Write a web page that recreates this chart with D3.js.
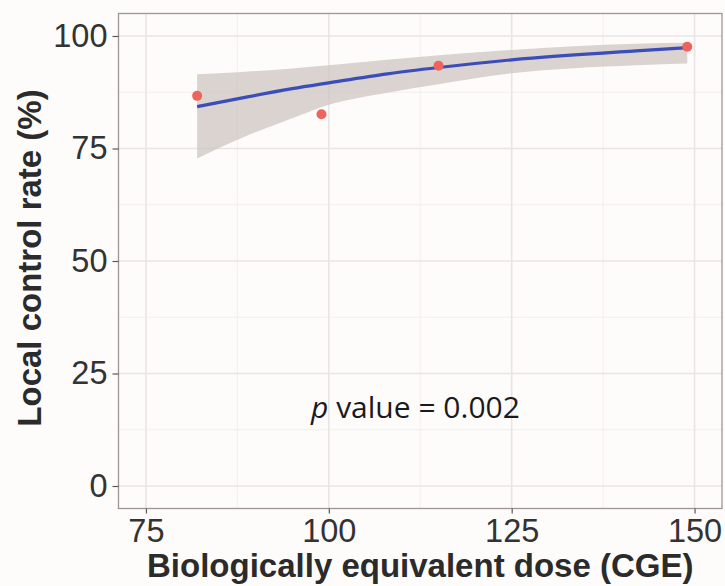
<!DOCTYPE html>
<html>
<head>
<meta charset="utf-8">
<script src="https://cdn.jsdelivr.net/npm/d3@7"></script>
<style>
  html, body { margin: 0; padding: 0; background: #fdfcfb; }
  svg { display: block; }
</style>
</head>
<body>
<div id="chart"></div>
<script>
// observed local control rates
const doses = [82, 99, 115, 149];
const rates = [86.7, 82.6, 93.4, 97.6];

// fitted curve and its confidence band, read at these doses
const fitDose = [82, 88, 95, 100, 108, 115, 125, 142, 149];
const fitRate = [84.3, 86.2, 88.3, 89.6, 91.6, 93.0, 94.7, 96.7, 97.4];
const fitUpper = [91.5, 92.0, 92.8, 93.5, 94.7, 95.7, 96.9, 98.3, 98.5];
const fitLower = [72.8, 77.3, 81.7, 84.7, 87.4, 89.3, 91.7, 93.5, 93.9];

const xTicks = [75, 100, 125, 150];
const xMinor = [87.5, 112.5, 137.5];
const yTicks = [0, 25, 50, 75, 100];
const yMinor = [12.5, 37.5, 62.5, 87.5];

const width = 725, height = 586;
const margin = { top: 13.5, right: 3, bottom: 77.5, left: 118.5 };

const svg = d3.select("#chart").append("svg")
  .attr("width", width)
  .attr("height", height);

const x = d3.scaleLinear().domain([71.25, 153.75]).range([margin.left, width - margin.right]);
const y = d3.scaleLinear().domain([-5, 105]).range([height - margin.bottom, margin.top]);

const textColor = "#2b2b2b";
const sans = "Liberation Sans, Arial, sans-serif";

// grid
const grid = svg.append("g");
grid.selectAll(".xminor").data(xMinor).join("line")
  .attr("x1", d => x(d)).attr("x2", d => x(d))
  .attr("y1", margin.top).attr("y2", height - margin.bottom)
  .attr("stroke", "#f3eeee").attr("stroke-width", 1);
grid.selectAll(".yminor").data(yMinor).join("line")
  .attr("y1", d => y(d)).attr("y2", d => y(d))
  .attr("x1", margin.left).attr("x2", width - margin.right)
  .attr("stroke", "#f3eeee").attr("stroke-width", 1);
grid.selectAll(".xmajor").data(xTicks).join("line")
  .attr("x1", d => x(d)).attr("x2", d => x(d))
  .attr("y1", margin.top).attr("y2", height - margin.bottom)
  .attr("stroke", "#ebe4e4").attr("stroke-width", 1.6);
grid.selectAll(".ymajor").data(yTicks).join("line")
  .attr("y1", d => y(d)).attr("y2", d => y(d))
  .attr("x1", margin.left).attr("x2", width - margin.right)
  .attr("stroke", "#ebe4e4").attr("stroke-width", 1.6);

// confidence band
const band = fitDose.map((d, i) => ({ dose: d, lo: fitLower[i], hi: fitUpper[i], fit: fitRate[i] }));

svg.append("path")
  .datum(band)
  .attr("fill", "#cdc5c0")
  .attr("fill-opacity", 0.75)
  .attr("d", d3.area()
    .x(d => x(d.dose))
    .y0(d => y(d.lo))
    .y1(d => y(d.hi))
    .curve(d3.curveMonotoneX));

svg.append("path")
  .datum(band)
  .attr("fill", "none")
  .attr("stroke", "#3b4db8")
  .attr("stroke-width", 3.2)
  .attr("d", d3.line()
    .x(d => x(d.dose))
    .y(d => y(d.fit))
    .curve(d3.curveMonotoneX));

// points
svg.selectAll(".dot").data(doses).join("circle")
  .attr("cx", d => x(d))
  .attr("cy", (d, i) => y(rates[i]))
  .attr("r", 5)
  .attr("fill", "#f0625c");

// panel border
svg.append("rect")
  .attr("x", margin.left).attr("y", margin.top)
  .attr("width", width - margin.right - margin.left)
  .attr("height", height - margin.bottom - margin.top)
  .attr("fill", "none")
  .attr("stroke", "#9e9692")
  .attr("stroke-width", 1.3);

// axes
const xAxis = svg.append("g")
  .attr("transform", `translate(0,${height - margin.bottom})`)
  .call(d3.axisBottom(x).tickValues(xTicks).tickSize(5).tickPadding(5));
const yAxis = svg.append("g")
  .attr("transform", `translate(${margin.left},0)`)
  .call(d3.axisLeft(y).tickValues(yTicks).tickSize(6).tickPadding(5));

[xAxis, yAxis].forEach(g => {
  g.select(".domain").remove();
  g.selectAll(".tick line").attr("stroke", "#5a5a5a").attr("stroke-width", 1.2);
  g.selectAll(".tick text")
    .attr("fill", "#333")
    .style("font-family", sans)
    .style("font-size", "32.5px");
});

// axis titles
svg.append("text")
  .attr("x", (margin.left + width - margin.right) / 2)
  .attr("y", 577)
  .attr("text-anchor", "middle")
  .attr("fill", textColor)
  .style("font-family", sans)
  .style("font-weight", "bold")
  .style("font-size", "33px")
  .text("Biologically equivalent dose (CGE)");

svg.append("text")
  .attr("transform", `translate(41,${(margin.top + height - margin.bottom) / 2 - 3}) rotate(-90)`)
  .attr("text-anchor", "middle")
  .attr("fill", textColor)
  .style("font-family", sans)
  .style("font-weight", "bold")
  .style("font-size", "33px")
  .text("Local control rate (%)");

// p value annotation
const note = svg.append("text")
  .attr("x", 311)
  .attr("y", 418)
  .attr("fill", "#1a1a1a")
  .style("font-family", "Open Sans, sans-serif")
  .style("font-size", "30px");
note.append("tspan").style("font-style", "italic").text("p");
note.append("tspan").text(" value = 0.002");
</script>
</body>
</html>
